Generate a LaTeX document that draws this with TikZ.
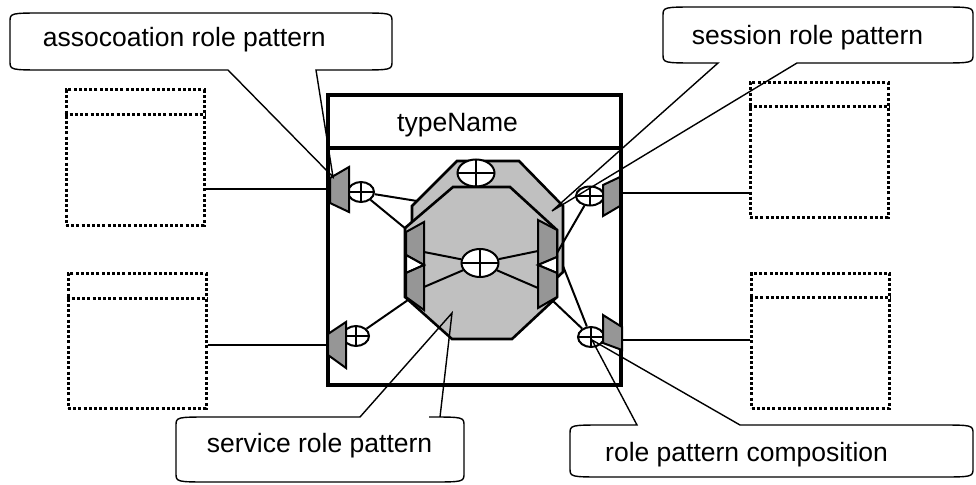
\documentclass[tikz,border=0pt]{standalone}
\usepackage{fontspec}
\setmainfont{Liberation Sans}
\usetikzlibrary{shapes.geometric,calc}
\definecolor{octfill}{RGB}{192,192,192}
\definecolor{portfill}{RGB}{150,150,150}

% speech bubble with the tail on the bottom edge:
% #1 left, #2 top, #3 right, #4 bottom,
% #5/#6 left/right end of the tail base, #7 tail tip
\newcommand{\speechbubble}[7]{%
  \draw[bubbleline] (#6,#4) -- ({#3-35},#4) .. controls (#3,#4) .. (#3,{#4-9})
    -- (#3,{#2+9}) .. controls (#3,#2) .. ({#3-35},#2)
    -- ({#1+35},#2) .. controls (#1,#2) .. (#1,{#2+9})
    -- (#1,{#4-9}) .. controls (#1,#4) .. ({#1+35},#4)
    -- (#5,#4) -- (#7) -- cycle;}
% same bubble with the tail on the top edge
\newcommand{\speechbubbleup}[7]{%
  \draw[bubbleline] (#5,#2) -- ({#1+35},#2) .. controls (#1,#2) .. (#1,{#2+9})
    -- (#1,{#4-9}) .. controls (#1,#4) .. ({#1+35},#4)
    -- ({#3-35},#4) .. controls (#3,#4) .. (#3,{#4-9})
    -- (#3,{#2+9}) .. controls (#3,#2) .. ({#3-35},#2)
    -- (#6,#2) -- (#7) -- cycle;}

\begin{document}
\begin{tikzpicture}[x=1pt,y=-1pt,
  dotline/.style={line width=3pt, dash pattern=on 3pt off 2.2pt},
  classbox/.style={dotline, draw, inner sep=0pt, minimum width=138pt, minimum height=135pt},
  wire/.style={line width=2pt},
  frame/.style={draw, line width=3.2pt, inner sep=0pt},
  octagon/.style={fill=octfill, draw=black, line width=2.6pt, line join=miter},
  port/.style={fill=portfill, draw=black, line width=2pt, line join=miter},
  notch/.style={fill=white, draw=black, line width=2pt, line join=miter},
  xor/.style={ellipse, draw, fill=white, line width=2pt, inner sep=0pt,
    path picture={\draw[line width=2pt]
      (path picture bounding box.north) -- (path picture bounding box.south)
      (path picture bounding box.west) -- (path picture bounding box.east);}},
  smallxor/.style={xor, minimum width=26pt, minimum height=20pt},
  bigxor/.style={xor, minimum width=37pt, minimum height=27pt},
  bubbleline/.style={line width=1.4pt, line join=miter},
  caption/.style={anchor=base west, inner sep=0pt, font=\fontsize{26.5}{30}\selectfont}]
\useasboundingbox (0,0) rectangle (976,484);

% dotted class boxes
\node[classbox] (c1) at (135,157.5) {};
\draw[dotline] (c1.west |- 0,115) -- (c1.east |- 0,115);
\node[classbox] (c2) at (137,340.5) {};
\draw[dotline] (c2.west |- 0,298) -- (c2.east |- 0,298);
\node[classbox] (c3) at (819,150) {};
\draw[dotline] (c3.west |- 0,107) -- (c3.east |- 0,107);
\node[classbox] (c4) at (820.5,340.5) {};
\draw[dotline] (c4.west |- 0,297) -- (c4.east |- 0,297);

% the type frame
\node[frame, minimum width=293pt, minimum height=290pt] (main) at (474.5,240) {};
\draw[line width=3.2pt] (main.west |- 0,148) -- (main.east |- 0,148);
\node[caption] (tname) at (397,131.5) {typeName};

% links from the class boxes to the frame
\coordinate (inLT) at (328,189);
\coordinate (inLB) at (328,345);
\coordinate (inRT) at (621,193);
\coordinate (inRB) at (621,340);
\draw[wire] (c1.east |- inLT) -- (inLT);
\draw[wire] (c2.east |- inLB) -- (inLB);
\draw[wire] (c3.west |- inRT) -- (inRT);
\draw[wire] (c4.west |- inRB) -- (inRB);

% stacked role patterns
\filldraw[octagon] (457,161) -- (519,161) -- (563,206) -- (563,272) -- (519,313)
  -- (459,313) -- (412,271) -- (412,206) -- cycle;
\node[bigxor] (xTop) at (476,173) {};
\filldraw[octagon] (453,187) -- (510,187) -- (557,230) -- (557,297) -- (512,339)
  -- (452,339) -- (405,297) -- (405,228) -- cycle;

% inner ports
\filldraw[port] (406,232) -- (424,222) -- (424,265) -- (406,255) -- cycle;
\filldraw[notch] (406,255) -- (424,265) -- (406,273) -- cycle;
\filldraw[port] (406,273) -- (424,265) -- (424,310) -- (406,297) -- cycle;
\filldraw[port] (538,220) -- (557,230) -- (557,257) -- (538,265) -- cycle;
\filldraw[notch] (557,257) -- (538,265) -- (557,273) -- cycle;
\filldraw[port] (538,265) -- (557,273) -- (557,297) -- (538,308) -- cycle;

% inner composition
\node[bigxor, minimum height=28pt] (xMid) at (480,263) {};
\coordinate (pLU) at (424,252);
\coordinate (pLL) at (424,287);
\coordinate (pRU) at (538,251);
\coordinate (pRL) at (538,288);
\draw[wire] (xMid) -- (pLU);
\draw[wire] (xMid) -- (pLL);
\draw[wire] (xMid) -- (pRU);
\draw[wire] (xMid) -- (pRL);

% outer compositions
\node[smallxor] (xLT) at (361,192) {};
\node[smallxor] (xLB) at (356,336) {};
\node[smallxor, minimum width=28pt, minimum height=19pt] (xRT) at (590,196) {};
\node[smallxor] (xRB) at (591,337) {};

\coordinate (eBackL) at (417,201);
\coordinate (eFrontL) at (406,229);
\coordinate (eFrontLB) at (408,300);
\coordinate (eRU) at (557,253);
\coordinate (eBackR) at (563,266);
\coordinate (eFrontRB) at (553,301);
\draw[wire] (xLT) -- (eBackL);
\draw[wire] (xLT) -- (eFrontL);
\draw[wire] (xLB) -- (eFrontLB);
\draw[wire] (xRT) -- (eRU);
\draw[wire] (xRB) -- (eBackR);
\draw[wire] (xRB) -- (eFrontRB);

% outer ports on the frame
\filldraw[port] (330,178) -- (349,167) -- (349,212) -- (330,203) -- cycle;
\filldraw[port] (328,334) -- (346,322) -- (346,368) -- (328,355) -- cycle;
\filldraw[port] (603,185) -- (620,177) -- (620,206) -- (603,216) -- cycle;
\filldraw[port] (603,315) -- (622,327) -- (622,350) -- (603,343) -- cycle;

% callouts
\coordinate (tipA) at (333,177);
\speechbubble{10}{13}{392}{70}{228}{316}{tipA}
\node[caption] (tA) at (42.7,47) {assocoation role pattern};

\coordinate (tipS) at (552,211);
\speechbubble{663}{7}{973}{63}{718}{797}{tipS}
\node[caption] (tS) at (691.7,45) {session role pattern};

\coordinate (tipV) at (452,313);
\speechbubbleup{176}{417}{464}{482}{360}{440}{tipV}
\node[caption] (tV) at (206.7,452.7) {service role pattern};

\coordinate (tipC) at (592,340);
\speechbubbleup{570}{425}{973}{477}{637}{740}{tipC}
\node[caption] (tC) at (605,461.7) {role pattern composition};
\end{tikzpicture}
\end{document}
